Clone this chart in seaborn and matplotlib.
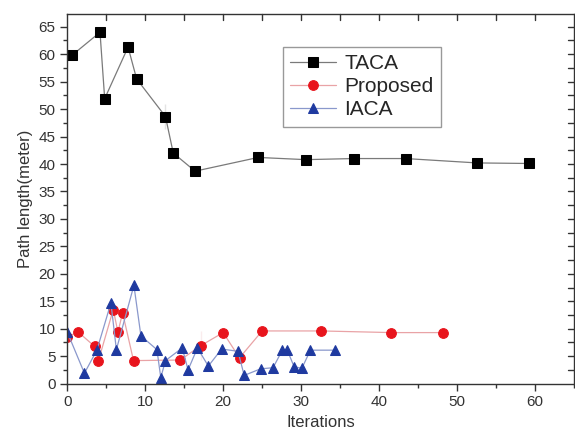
import pandas as pd
import seaborn as sns
import matplotlib.pyplot as plt
from matplotlib.ticker import MultipleLocator

sns.set_style("ticks")
plt.rcParams['font.family'] = ['Liberation Sans', 'DejaVu Sans']

# TACA
taca_x = [0.6, 4.2, 4.8, 7.8, 8.9, 12.6, 12.6, 13.6, 16.4, 24.5, 30.6, 36.8, 43.4, 52.6, 59.3]
taca_y = [59.8, 64.0, 51.9, 61.3, 55.5, 50.9, 46.4, 42.0, 38.7, 41.2, 40.8, 41.0, 41.0, 40.2, 40.1]

# Proposed
prop_x = [0.0, 1.4, 3.5, 4.0, 3.5, 5.9, 6.5, 7.1, 8.5, 14.5, 17.1, 17.1, 20.0, 22.1, 25.0,
          32.6, 41.6, 48.2]
prop_y = [8.5, 9.4, 7.8, 4.2, 5.8, 13.5, 9.4, 12.9, 4.2, 4.3, 9.5, 4.3, 9.3, 4.7, 9.6,
          9.6, 9.3, 9.3]

# IACA
iaca_x = [0.0, 2.2, 3.8, 5.6, 6.3, 8.55, 9.45, 11.5, 12.0, 12.6, 14.75, 15.5, 16.7, 18.1,
          19.8, 21.9, 22.7, 24.8, 26.4, 27.6, 28.2, 29.1, 30.1, 31.2, 34.3]
iaca_y = [9.4, 1.9, 6.1, 14.7, 6.2, 17.9, 8.7, 6.2, 1.1, 4.2, 6.5, 2.5, 6.5, 3.2,
          6.3, 5.9, 1.5, 2.7, 2.9, 6.1, 6.2, 3.1, 2.8, 6.1, 6.1]

fig = plt.figure(figsize=(5.75, 4.42), dpi=100)
ax = fig.add_axes([0.117, 0.132, 0.881, 0.836])

sns.lineplot(x=taca_x, y=taca_y, sort=False, ax=ax, color='#7a7a7a', linewidth=0.9,
             marker='s', markersize=6.5, markerfacecolor='black', markeredgecolor='black',
             label='TACA')
sns.lineplot(x=prop_x, y=prop_y, sort=False, ax=ax, color='#e9a3a6', linewidth=0.9,
             marker='o', markersize=7, markerfacecolor='#e8141c', markeredgecolor='#e8141c',
             label='Proposed')
sns.lineplot(x=iaca_x, y=iaca_y, sort=False, ax=ax, color='#8a98cc', linewidth=0.9,
             marker='^', markersize=7.5, markerfacecolor='#1f3aa0', markeredgecolor='#1f3aa0',
             label='IACA')

ax.set_xlim(0, 65)
ax.set_ylim(0, 67.3)
ax.xaxis.set_major_locator(MultipleLocator(10))
ax.xaxis.set_minor_locator(MultipleLocator(5))
ax.yaxis.set_major_locator(MultipleLocator(5))
ax.yaxis.set_minor_locator(MultipleLocator(2.5))
ax.tick_params(which='both', direction='out', colors='#333333', labelsize=11,
               top=False, right=False)
ax.tick_params(which='major', length=5, width=1)
ax.tick_params(which='minor', length=3, width=1)
for s in ax.spines.values():
    s.set_color('#333333')
    s.set_linewidth(1.0)

# mirrored inward ticks on top and right
for v in range(5, 65, 5):
    ax.plot([v, v], [67.3, 66.2], color='#333333', linewidth=1, clip_on=False)
for i in range(1, 27):
    v = i * 2.5
    ax.plot([65, 64.3], [v, v], color='#333333', linewidth=1, clip_on=False)

ax.set_xlabel('Iterations', fontsize=12, color='#333333')
ax.set_ylabel('Path length(meter)', fontsize=12, color='#333333')

leg = ax.legend(loc='upper left', bbox_to_anchor=(0.405, 0.94), fontsize=15,
                frameon=True, fancybox=False, edgecolor='#999999', framealpha=1,
                handlelength=2.2, labelspacing=0.2, borderpad=0.35, handletextpad=0.4)
leg.get_frame().set_linewidth(1.0)

fig.savefig('out.png', dpi=100)
